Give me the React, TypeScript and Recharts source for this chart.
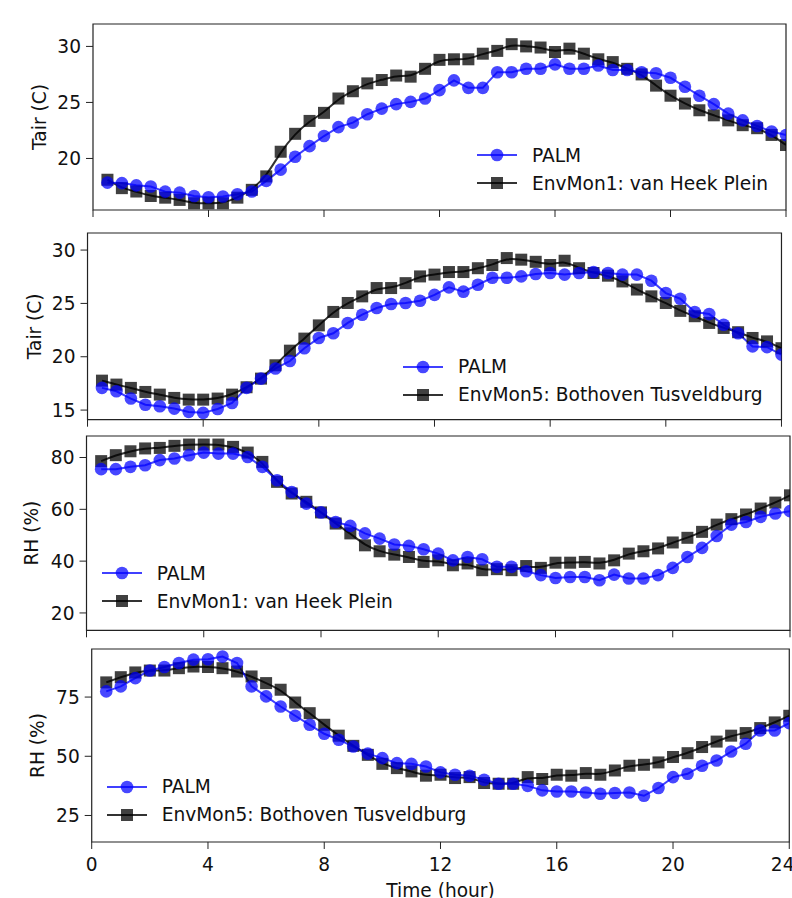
import {
  LineChart,
  Line,
  XAxis,
  YAxis,
  ReferenceArea,
  Legend,
} from 'recharts'

const hours = [
  0.5, 1, 1.5, 2, 2.5, 3, 3.5, 4, 4.5, 5, 5.5, 6, 6.5, 7, 7.5, 8,
  8.5, 9, 9.5, 10, 10.5, 11, 11.5, 12, 12.5, 13, 13.5, 14, 14.5, 15, 15.5, 16,
  16.5, 17, 17.5, 18, 18.5, 19, 19.5, 20, 20.5, 21, 21.5, 22, 22.5, 23, 23.5, 24,
]
const hourTicks = [0, 4, 8, 12, 16, 20, 24]

// air temperature, EnvMon1 site
const tairPalm1 = [
  17.84, 17.8, 17.6, 17.5, 17.04, 16.95, 16.65, 16.54, 16.6, 16.8,
  17.05, 18.0, 19.0, 20.15, 21.1, 22.0, 22.8, 23.2, 23.95, 24.45,
  24.85, 25.05, 25.35, 26.1, 26.97, 26.3, 26.3, 27.7, 27.7, 28.0,
  28.0, 28.4, 28.0, 28.0, 28.3, 27.9, 27.9, 27.7, 27.6, 27.2,
  26.4, 25.6, 24.85, 24.0, 23.4, 22.9, 22.4, 22.1,
]
const tairEnv1 = [
  18.1, 17.35, 17.05, 16.65, 16.5, 16.3, 16.0, 16.0, 16.0, 16.5,
  17.2, 18.4, 20.6, 22.2, 23.35, 24.07, 25.35, 26.0, 26.7, 27.0,
  27.4, 27.3, 28.0, 28.8, 28.85, 28.85, 29.35, 29.6, 30.2, 30.0,
  29.9, 29.5, 29.8, 29.35, 28.85, 28.6, 28.0, 27.5, 26.5, 25.6,
  24.9, 24.3, 23.85, 23.4, 22.97, 22.7, 22.1, 21.2,
]

// air temperature, EnvMon5 site
const tairPalm5 = [
  17.08, 16.76, 16.08, 15.5, 15.36, 15.14, 14.83, 14.74, 15.1, 15.67,
  17.08, 17.95, 18.9, 19.6, 20.8, 21.76, 22.2, 23.17, 23.94, 24.57,
  24.94, 25.04, 25.25, 25.8, 26.5, 26.1, 26.75, 27.4, 27.4, 27.53,
  27.75, 27.85, 27.7, 27.85, 27.94, 27.85, 27.7, 27.7, 27.13, 25.97,
  25.44, 24.2, 24.0, 23.0, 22.2, 20.97, 20.9, 20.2,
]
const tairEnv5 = [
  17.76, 17.39, 17.08, 16.7, 16.45, 16.14, 15.98, 15.98, 16.08, 16.45,
  17.14, 17.95, 19.2, 20.57, 21.7, 22.94, 24.2, 25.04, 25.66, 26.44,
  26.44, 26.9, 27.53, 27.7, 27.94, 27.94, 28.3, 28.6, 29.25, 29.1,
  28.9, 28.6, 29.0, 28.3, 27.85, 27.6, 27.06, 26.3, 25.66, 25.04,
  24.3, 23.8, 23.17, 22.7, 22.3, 21.76, 21.44, 20.8,
]

// relative humidity, EnvMon1 site
const rhPalm1 = [
  75.5, 75.5, 76.4, 77.0, 79.0, 79.6, 80.9, 81.9, 81.5, 81.5,
  80.2, 76.4, 71.2, 66.7, 62.2, 58.8, 55.1, 53.6, 50.7, 48.7,
  46.4, 45.9, 44.6, 42.9, 40.3, 41.6, 40.7, 37.8, 37.8, 36.1,
  34.6, 33.5, 33.9, 33.9, 32.6, 34.8, 33.3, 33.3, 34.6, 37.4,
  41.6, 45.1, 49.7, 54.1, 55.1, 57.1, 58.4, 59.3,
]
const rhEnv1 = [
  78.6, 80.9, 82.4, 83.5, 83.7, 84.5, 85.0, 85.0, 85.0, 84.1,
  81.9, 78.3, 70.6, 66.1, 62.9, 58.8, 54.5, 50.7, 46.1, 43.8,
  42.5, 41.6, 39.7, 40.3, 38.4, 39.1, 36.5, 36.9, 36.5, 38.1,
  37.4, 39.4, 39.4, 39.7, 39.1, 40.3, 42.9, 43.8, 44.9, 47.2,
  49.0, 51.3, 54.1, 56.2, 58.0, 60.3, 62.6, 65.4,
]

// relative humidity, EnvMon5 site
const rhPalm5 = [
  77.4, 79.5, 83.0, 86.2, 87.7, 89.4, 90.8, 91.0, 92.1, 89.4,
  79.5, 75.3, 71.0, 67.1, 63.3, 59.5, 57.0, 54.1, 51.1, 49.2,
  47.1, 46.8, 45.7, 43.2, 42.2, 41.8, 40.1, 38.4, 38.4, 37.5,
  35.6, 35.1, 35.1, 34.7, 34.2, 34.5, 34.7, 33.3, 36.6, 41.2,
  42.6, 46.0, 48.2, 52.0, 55.3, 60.9, 60.9, 64.0,
]
const rhEnv5 = [
  81.2, 83.4, 85.4, 86.2, 86.2, 87.2, 87.9, 87.7, 87.2, 85.8,
  83.7, 80.9, 78.1, 72.7, 68.2, 63.3, 58.7, 54.4, 50.6, 46.8,
  45.0, 43.6, 41.8, 42.2, 40.8, 41.2, 38.7, 38.4, 38.4, 41.2,
  40.4, 42.2, 41.8, 42.9, 42.2, 44.0, 46.0, 46.4, 47.4, 49.7,
  51.3, 53.9, 56.2, 58.7, 59.8, 61.9, 64.3, 67.1,
]

const BLUE = '#0000ff'
const FONT = "'DejaVu Sans', sans-serif"
const TXT = '#111'
const FS = 18.6

const panels = [
  {
    palm: tairPalm1, env: tairEnv1, envName: 'EnvMon1: van Heek Plein',
    top: 24, bottom: 210, left: 93, right: 786,
    domain: [15.4, 32.0], yTicks: [20, 25, 30], yLabel: 'Tair (C)', yLabelX: 39.5,
    legend: { left: 477, top: 141 }, showX: false,
  },
  {
    palm: tairPalm5, env: tairEnv5, envName: 'EnvMon5: Bothoven Tusveldburg',
    top: 233.3, bottom: 420, left: 87.5, right: 781.5,
    domain: [14.1, 31.6], yTicks: [15, 20, 25, 30], yLabel: 'Tair (C)', yLabelX: 34,
    legend: { left: 403, top: 352.7 }, showX: false,
  },
  {
    palm: rhPalm1, env: rhEnv1, envName: 'EnvMon1: van Heek Plein',
    top: 435.7, bottom: 630, left: 86.5, right: 790,
    domain: [13.3, 88.3], yTicks: [20, 40, 60, 80], yLabel: 'RH (%)', yLabelX: 32,
    legend: { left: 101.7, top: 559.3 }, showX: false,
  },
  {
    palm: rhPalm5, env: rhEnv5, envName: 'EnvMon5: Bothoven Tusveldburg',
    top: 649.3, bottom: 842.3, left: 91.7, right: 789.3,
    domain: [13.8, 95.3], yTicks: [25, 50, 75], yLabel: 'RH (%)', yLabelX: 37.5,
    legend: { left: 106.7, top: 772.7 }, showX: true,
  },
]

const circleDot = (p: any) => (
  <circle key={`c-${p.index}`} cx={p.cx} cy={p.cy} r={6.3} fill={BLUE} fillOpacity={0.72} />
)
const squareDot = (p: any) => (
  <rect key={`s-${p.index}`} x={p.cx - 6} y={p.cy - 6} width={12} height={12} fill="#000" fillOpacity={0.75} />
)

function LegendRow({ kind, label }: { kind: 'palm' | 'env'; label: string }) {
  return (
    <div style={{ display: 'flex', alignItems: 'center', height: 28, whiteSpace: 'nowrap' }}>
      <svg width={40} height={20}>
        {kind === 'palm' ? (
          <>
            <line x1={0} y1={10} x2={40} y2={10} stroke={BLUE} strokeOpacity={0.75} strokeWidth={2} />
            <circle cx={20} cy={10} r={6.3} fill={BLUE} fillOpacity={0.72} />
          </>
        ) : (
          <>
            <line x1={0} y1={10} x2={40} y2={10} stroke="#000" strokeOpacity={0.8} strokeWidth={2} />
            <rect x={14} y={4} width={12} height={12} fill="#000" fillOpacity={0.75} />
          </>
        )}
      </svg>
      <span style={{ marginLeft: 15 }}>{label}</span>
    </div>
  )
}

function Panel({ cfg }: { cfg: (typeof panels)[number] }) {
  const plotH = cfg.bottom - cfg.top
  const xh = cfg.showX ? 898 - cfg.bottom : 10
  const chartTop = cfg.top - 2
  const data = hours.map((h, i) => ({ h, palm: cfg.palm[i], env: cfg.env[i] }))
  const tick = { fontSize: FS, fill: TXT, fontFamily: FONT }

  return (
    <div style={{ position: 'absolute', left: 0, top: chartTop }}>
      <LineChart
        width={792}
        height={2 + plotH + xh}
        data={data}
        margin={{ top: 2, right: 792 - cfg.right, bottom: 0, left: 0 }}
      >
        <XAxis
          dataKey="h"
          type="number"
          domain={[0, 24]}
          ticks={hourTicks}
          allowDataOverflow
          axisLine={false}
          tickSize={7}
          tickMargin={9}
          height={xh}
          tick={tick}
          tickLine={{ stroke: '#222' }}
          tickFormatter={cfg.showX ? undefined : () => ''}
          label={
            cfg.showX
              ? { value: 'Time (hour)', position: 'insideBottom', offset: 1, fontSize: FS, fill: TXT, fontFamily: FONT }
              : undefined
          }
        />
        <YAxis
          type="number"
          domain={cfg.domain}
          ticks={cfg.yTicks}
          allowDataOverflow
          axisLine={false}
          width={cfg.left}
          tickSize={7}
          tickMargin={5}
          tick={tick}
          tickLine={{ stroke: '#222' }}
          label={(props: any) => {
            const vb = props.viewBox || {}
            const cy = (vb.y ?? 2) + (vb.height ?? plotH) / 2
            const x = cfg.yLabelX
            return (
              <text
                x={x}
                y={cy}
                transform={`rotate(-90 ${x} ${cy})`}
                textAnchor="middle"
                dominantBaseline="central"
                fontSize={FS}
                fill={TXT}
                fontFamily={FONT}
              >
                {cfg.yLabel}
              </text>
            )
          }}
        />
        <Line
          dataKey="env"
          type="basis"
          stroke="#000"
          strokeOpacity={0.8}
          strokeWidth={2}
          dot={squareDot}
          activeDot={false}
          isAnimationActive={false}
        />
        <Line
          dataKey="palm"
          type="linear"
          stroke={BLUE}
          strokeOpacity={0.75}
          strokeWidth={2}
          dot={circleDot}
          activeDot={false}
          isAnimationActive={false}
        />
        <ReferenceArea
          x1={0}
          x2={24}
          y1={cfg.domain[0]}
          y2={cfg.domain[1]}
          fill="none"
          fillOpacity={0}
          stroke="#222"
          strokeWidth={1.2}
          ifOverflow="visible"
        />
        <Legend
          layout="horizontal"
          verticalAlign="middle"
          align="center"
          wrapperStyle={{
            left: cfg.legend.left,
            top: cfg.legend.top - chartTop,
            width: 'auto',
            height: 'auto',
            fontFamily: FONT,
            fontSize: FS,
            color: TXT,
          }}
          content={() => (
            <div>
              <LegendRow kind="palm" label="PALM" />
              <LegendRow kind="env" label={cfg.envName} />
            </div>
          )}
        />
      </LineChart>
    </div>
  )
}

export default function App() {
  return (
    <div
      style={{
        position: 'absolute',
        left: 0,
        top: 0,
        width: 792,
        height: 898,
        overflow: 'hidden',
        background: '#fff',
        fontFamily: FONT,
      }}
    >
      {panels.map((cfg, i) => (
        <Panel key={i} cfg={cfg} />
      ))}
    </div>
  )
}
